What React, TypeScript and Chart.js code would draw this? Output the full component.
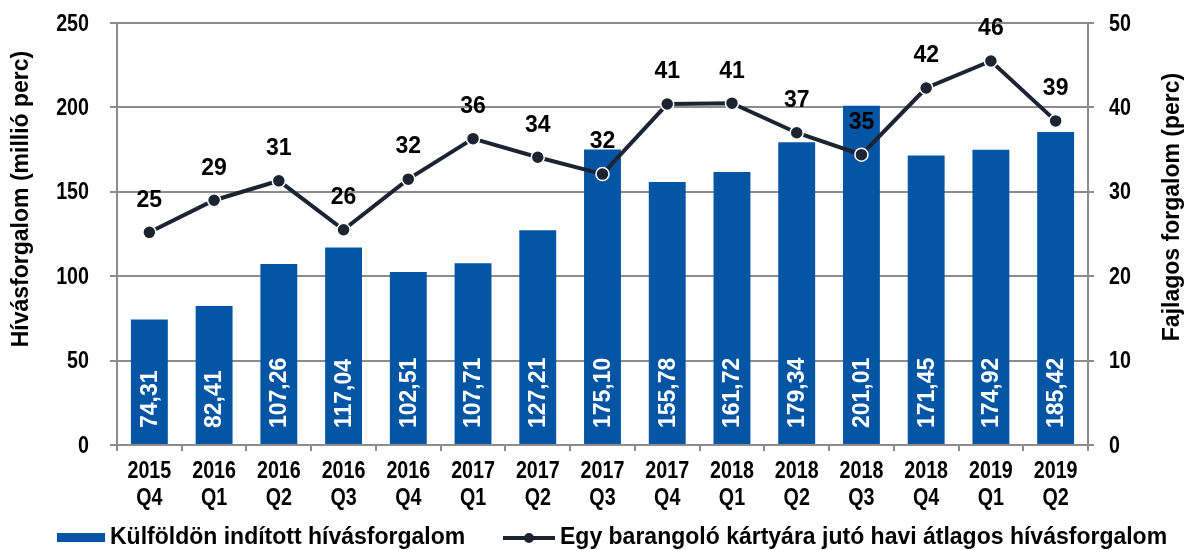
import React, { useEffect, useRef } from "react";
import { Chart, registerables } from "chart.js";

Chart.register(...registerables);

const categories: string[][] = [
  ["2015", "Q4"], ["2016", "Q1"], ["2016", "Q2"], ["2016", "Q3"], ["2016", "Q4"],
  ["2017", "Q1"], ["2017", "Q2"], ["2017", "Q3"], ["2017", "Q4"], ["2018", "Q1"],
  ["2018", "Q2"], ["2018", "Q3"], ["2018", "Q4"], ["2019", "Q1"], ["2019", "Q2"],
];
const barValues = [74.31, 82.41, 107.26, 117.04, 102.51, 107.71, 127.21, 175.1, 155.78, 161.72, 179.34, 201.01, 171.45, 174.92, 185.42];
const lineValues = [25.2, 29.0, 31.3, 25.5, 31.5, 36.3, 34.1, 32.1, 40.4, 40.5, 37.0, 34.4, 42.3, 45.5, 38.4];
const lineLabels = ["25", "29", "31", "26", "32", "36", "34", "32", "41", "41", "37", "35", "42", "46", "39"];
const barSeriesName = "Külföldön indított hívásforgalom";
const lineSeriesName = "Egy barangoló kártyára jutó havi átlagos hívásforgalom";
const leftTitle = "Hívásforgalom (millió perc)";
const rightTitle = "Fajlagos forgalom (perc)";

const FAMILY = "'Liberation Sans', Arial, sans-serif";
const BAR_COLOR = "#0455a4";
const LINE_COLOR = "#1c2331";
const GRID = "#8c8c8c";
const NARROW = 0.82;

const fmt = (v: number) => v.toFixed(2).replace(".", ",");

function narrowText(ctx: any, text: string, x: number, y: number, align: "left" | "right" | "center") {
  ctx.save();
  ctx.translate(x, y);
  ctx.scale(NARROW, 1);
  ctx.textAlign = align;
  ctx.fillText(text, 0, 0);
  ctx.restore();
}

const labelsPlugin = {
  id: "customLabels",
  afterFit(scale: any) {},
  afterDatasetsDraw(chart: any) {
    const ctx = chart.ctx;
    const yScale = chart.scales.y;
    const barMeta = chart.getDatasetMeta(1);
    ctx.save();
    ctx.fillStyle = "#ffffff";
    ctx.font = `bold 23px ${FAMILY}`;
    ctx.textAlign = "left";
    ctx.textBaseline = "middle";
    barMeta.data.forEach((el: any, i: number) => {
      ctx.save();
      ctx.translate(el.x, yScale.bottom - 17);
      ctx.rotate(-Math.PI / 2);
      ctx.fillText(fmt(barValues[i]), 0, 1);
      ctx.restore();
    });
    ctx.restore();
    const lineMeta = chart.getDatasetMeta(0);
    ctx.save();
    ctx.fillStyle = "#000000";
    ctx.font = `bold 23px ${FAMILY}`;
    ctx.textAlign = "center";
    ctx.textBaseline = "middle";
    lineMeta.data.forEach((el: any, i: number) => {
      ctx.fillText(lineLabels[i], el.x, el.y - 32);
    });
    ctx.restore();
  },
  afterDraw(chart: any) {
    const ctx = chart.ctx;
    ctx.save();
    ctx.fillStyle = "#000000";
    ctx.textBaseline = "middle";
    // tick labels (narrow look)
    ctx.font = `bold 24px ${FAMILY}`;
    const yS = chart.scales.y;
    yS.ticks.forEach((t: any) => {
      narrowText(ctx, String(t.value), 89, yS.getPixelForValue(t.value) + 1, "right");
    });
    const y1 = chart.scales.y1;
    y1.ticks.forEach((t: any) => {
      narrowText(ctx, String(t.value), 1109, y1.getPixelForValue(t.value) + 1, "left");
    });
    const xS = chart.scales.x;
    xS.ticks.forEach((t: any, i: number) => {
      const lines = categories[t.value];
      const px = xS.getPixelForTick(i);
      narrowText(ctx, lines[0], px, 471, "center");
      narrowText(ctx, lines[1], px, 498, "center");
    });
    // axis titles
    ctx.font = `bold 23px ${FAMILY}`;
    ctx.save();
    ctx.translate(22, 199);
    ctx.rotate(-Math.PI / 2);
    ctx.textAlign = "center";
    ctx.fillText(leftTitle, 0, 0);
    ctx.restore();
    ctx.save();
    ctx.translate(1173, 207);
    ctx.rotate(-Math.PI / 2);
    ctx.textAlign = "center";
    ctx.fillText(rightTitle, 0, 0);
    ctx.restore();
    // legend
    const ly = 538;
    ctx.fillStyle = BAR_COLOR;
    ctx.fillRect(57, 533, 48, 9);
    ctx.fillStyle = "#000000";
    ctx.textAlign = "left";
    ctx.fillText(barSeriesName, 110, ly);
    ctx.strokeStyle = LINE_COLOR;
    ctx.lineWidth = 4;
    ctx.beginPath();
    ctx.moveTo(503, ly);
    ctx.lineTo(555, ly);
    ctx.stroke();
    ctx.fillStyle = LINE_COLOR;
    ctx.beginPath();
    ctx.arc(529, ly, 5, 0, Math.PI * 2);
    ctx.fill();
    ctx.fillStyle = "#000000";
    ctx.fillText(lineSeriesName, 560, ly);
    ctx.restore();
  },
};

export default function App() {
  const ref = useRef<HTMLCanvasElement | null>(null);
  useEffect(() => {
    document.body.style.margin = "0";
    const canvas = ref.current!;
    const zeroPad = (s: any) => { s.paddingTop = 0; s.paddingBottom = 0; s.paddingLeft = 0; s.paddingRight = 0; };
    const chart = new Chart(canvas, {
      type: "bar",
      data: {
        labels: categories as any,
        datasets: [
          {
            type: "line",
            label: lineSeriesName,
            data: lineValues,
            yAxisID: "y1",
            borderColor: LINE_COLOR,
            borderWidth: 4,
            pointRadius: 6.5,
            pointBackgroundColor: LINE_COLOR,
            pointBorderColor: "#ffffff",
            pointBorderWidth: 1.5,
            tension: 0,
            order: 0,
          } as any,
          {
            type: "bar",
            label: barSeriesName,
            data: barValues,
            yAxisID: "y",
            backgroundColor: BAR_COLOR,
            barPercentage: 0.57,
            categoryPercentage: 1,
            order: 1,
          },
        ],
      },
      options: {
        responsive: false,
        animation: false,
        devicePixelRatio: 1,
        layout: { padding: { top: 23, left: 0, right: 0, bottom: 0 } },
        plugins: { legend: { display: false }, tooltip: { enabled: false } },
        scales: {
          x: {
            grid: { drawOnChartArea: false, drawTicks: true, tickLength: 6, color: GRID, lineWidth: 2, offset: true },
            border: { color: GRID, width: 2 },
            ticks: { display: false, autoSkip: false },
            afterFit: (s: any) => { s.height = 105; zeroPad(s); },
          },
          y: {
            position: "left",
            min: 0,
            max: 250,
            ticks: { stepSize: 50, display: false },
            grid: { color: GRID, lineWidth: 2, tickLength: 7 },
            border: { color: GRID, width: 2 },
            afterFit: (s: any) => { s.width = 117; zeroPad(s); },
          },
          y1: {
            position: "right",
            min: 0,
            max: 50,
            ticks: { stepSize: 10, display: false },
            grid: { drawOnChartArea: false, color: GRID, lineWidth: 2, tickLength: 6 },
            border: { color: GRID, width: 2 },
            afterFit: (s: any) => { s.width = 104; zeroPad(s); },
          },
        },
      },
      plugins: [labelsPlugin],
    });
    return () => chart.destroy();
  }, []);
  return (
    <div style={{ width: 1192, height: 550 }}>
      <canvas ref={ref} width={1192} height={550} style={{ display: "block" }} />
    </div>
  );
}
